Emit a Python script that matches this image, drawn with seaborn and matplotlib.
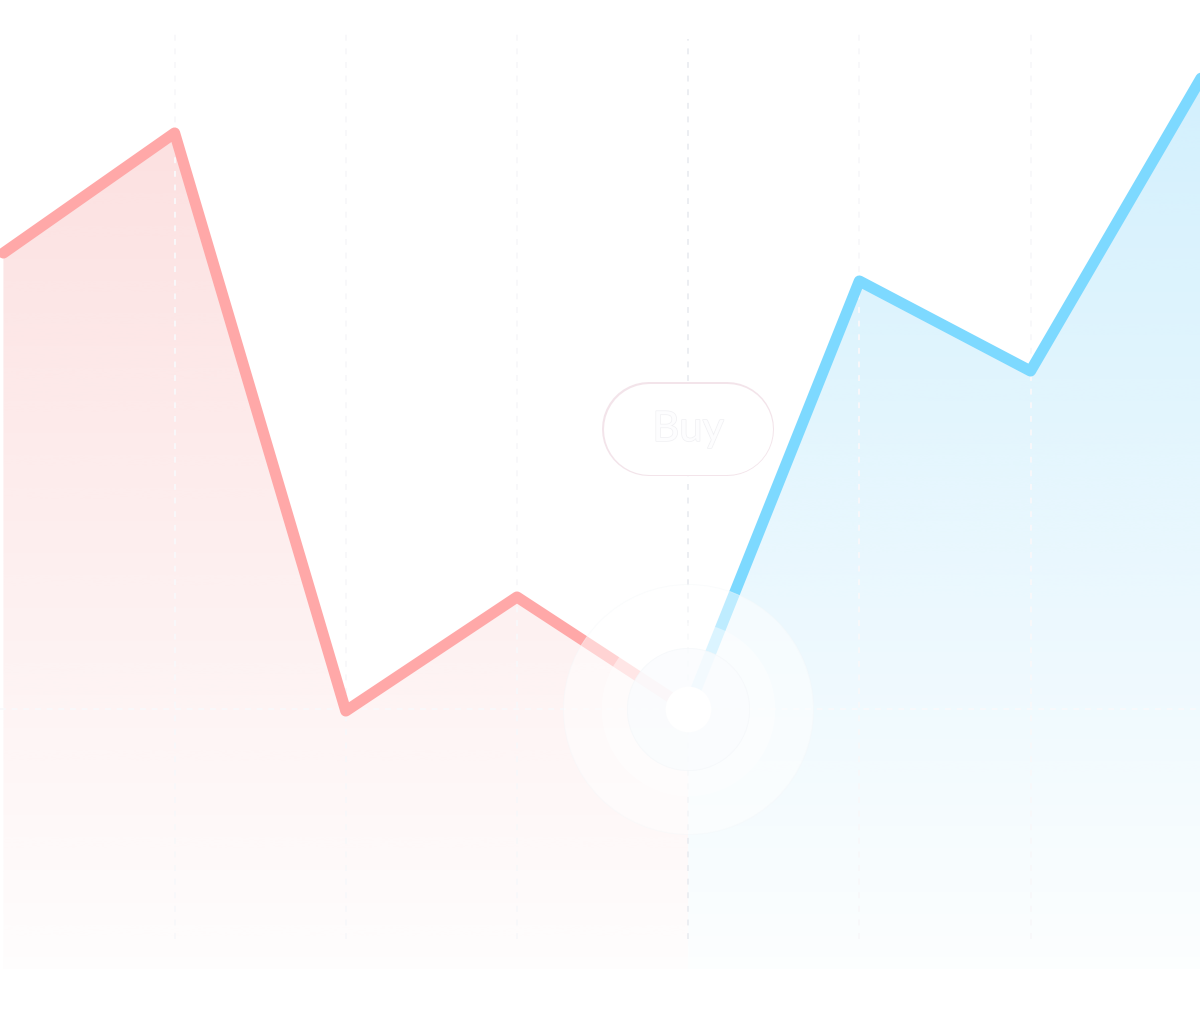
import numpy as np
import pandas as pd
import matplotlib
matplotlib.use("Agg")
import matplotlib.pyplot as plt
import matplotlib.patheffects as pe
from matplotlib.lines import Line2D
from matplotlib.transforms import IdentityTransform
from matplotlib.colors import to_rgb
import seaborn as sns

# ---- data -----------------------------------------------------------
x_sell = [0, 1, 2, 3, 4]
y_sell = [76.6, 88.6, 30.8, 42.2, 31.0]
x_buy = [4, 5, 6, 7]
y_buy = [31.0, 73.8, 64.8, 94.2]
grid_x = [1, 2, 3, 5, 6]
marker_x, marker_y = 4, 31.0
label_text = "Buy"
label_y = 59.0

RED = "#FFA8A8"
BLUE = "#7DD9FF"
FILL_BOTTOM = 5.0

sns.set_theme(style="white")
plt.rcParams["font.family"] = ["Lato", "DejaVu Sans"]

fig = plt.figure(figsize=(12, 10.2), dpi=100)
ax = fig.add_axes([0, 0, 1, 1])
ax.set_xlim(-0.02, 6.99)
ax.set_ylim(0, 102)
ax.axis("off")


def gradient_fill(xs, ys, color, a_top, a_bot):
    # fill under the line with a vertical alpha gradient
    poly = ax.fill_between(xs, ys, FILL_BOTTOM, color="none", lw=0)
    n = 256
    grad = np.zeros((n, 1, 4))
    grad[:, 0, :3] = to_rgb(color)
    grad[:, 0, 3] = np.linspace(a_bot, a_top, n)
    im = ax.imshow(grad, extent=[min(xs), max(xs), FILL_BOTTOM, 100],
                   origin="lower", aspect="auto", zorder=1, interpolation="bicubic")
    im.set_clip_path(poly.get_paths()[0], transform=ax.transData)


gradient_fill(x_sell, y_sell, "#F7A0A0", 0.36, 0.02)
gradient_fill(x_buy, y_buy, "#7DD3FA", 0.36, 0.02)

# ---- lines ----------------------------------------------------------
df_sell = pd.DataFrame({"x": x_sell, "y": y_sell})
df_buy = pd.DataFrame({"x": x_buy, "y": y_buy})
for df, col in [(df_sell, RED), (df_buy, BLUE)]:
    sns.lineplot(data=df, x="x", y="y", ax=ax, color=col, zorder=3)
    ln = ax.lines[-1]
    ln.set_linewidth(8.0)
    ln.set_solid_joinstyle("round")
    ln.set_solid_capstyle("round")
ax.set_xlim(-0.02, 6.99)
ax.set_ylim(0, 102)

# ---- grid -----------------------------------------------------------
ax.vlines(grid_x, 8, 99, colors="#F8F8FA", linestyles=(0, (3, 4)), lw=1.4, zorder=2)
ax.axhline(marker_y, color="#F9F9FB", ls=(0, (3, 3)), lw=1.4, zorder=2)
ax.vlines([marker_x], 8, 98, colors="#ECEEF2", linestyles=(0, (3, 4)), lw=1.4, zorder=2)

# ---- marker halo ----------------------------------------------------
ax.scatter([marker_x], [marker_y], s=180 ** 2, color="white", alpha=0.5,
           edgecolor="#F5F8FA", lw=0.6, zorder=4)
ax.scatter([marker_x], [marker_y], s=125 ** 2, color="white", alpha=0.45,
           lw=0, zorder=4)
ax.scatter([marker_x], [marker_y], s=88 ** 2, color="#FAFCFE", alpha=0.8,
           edgecolor="#F4F7FA", lw=0.5, zorder=4)
ax.scatter([marker_x], [marker_y], s=33 ** 2, color="white", lw=0, zorder=5)

# ---- label pill -----------------------------------------------------
cx, cy = ax.transData.transform((marker_x, label_y))
pill_w, pill_h = 170, 92
half = (pill_w - pill_h) / 2
for lw_px, col, z in [(pill_h + 2, "#F3E4EA", 6), (pill_h - 1, "white", 6.5)]:
    ax.add_line(Line2D([cx - half, cx + half], [cy, cy], transform=IdentityTransform(),
                       lw=lw_px * 72 / 100, color=col, solid_capstyle="round", zorder=z))
ax.text(marker_x, label_y, label_text, ha="center", va="center", fontsize=30,
        color="#FDFDFE", zorder=7,
        path_effects=[pe.withStroke(linewidth=1.0, foreground="#F0F0F3")])

plt.savefig("out.png", dpi=100)
